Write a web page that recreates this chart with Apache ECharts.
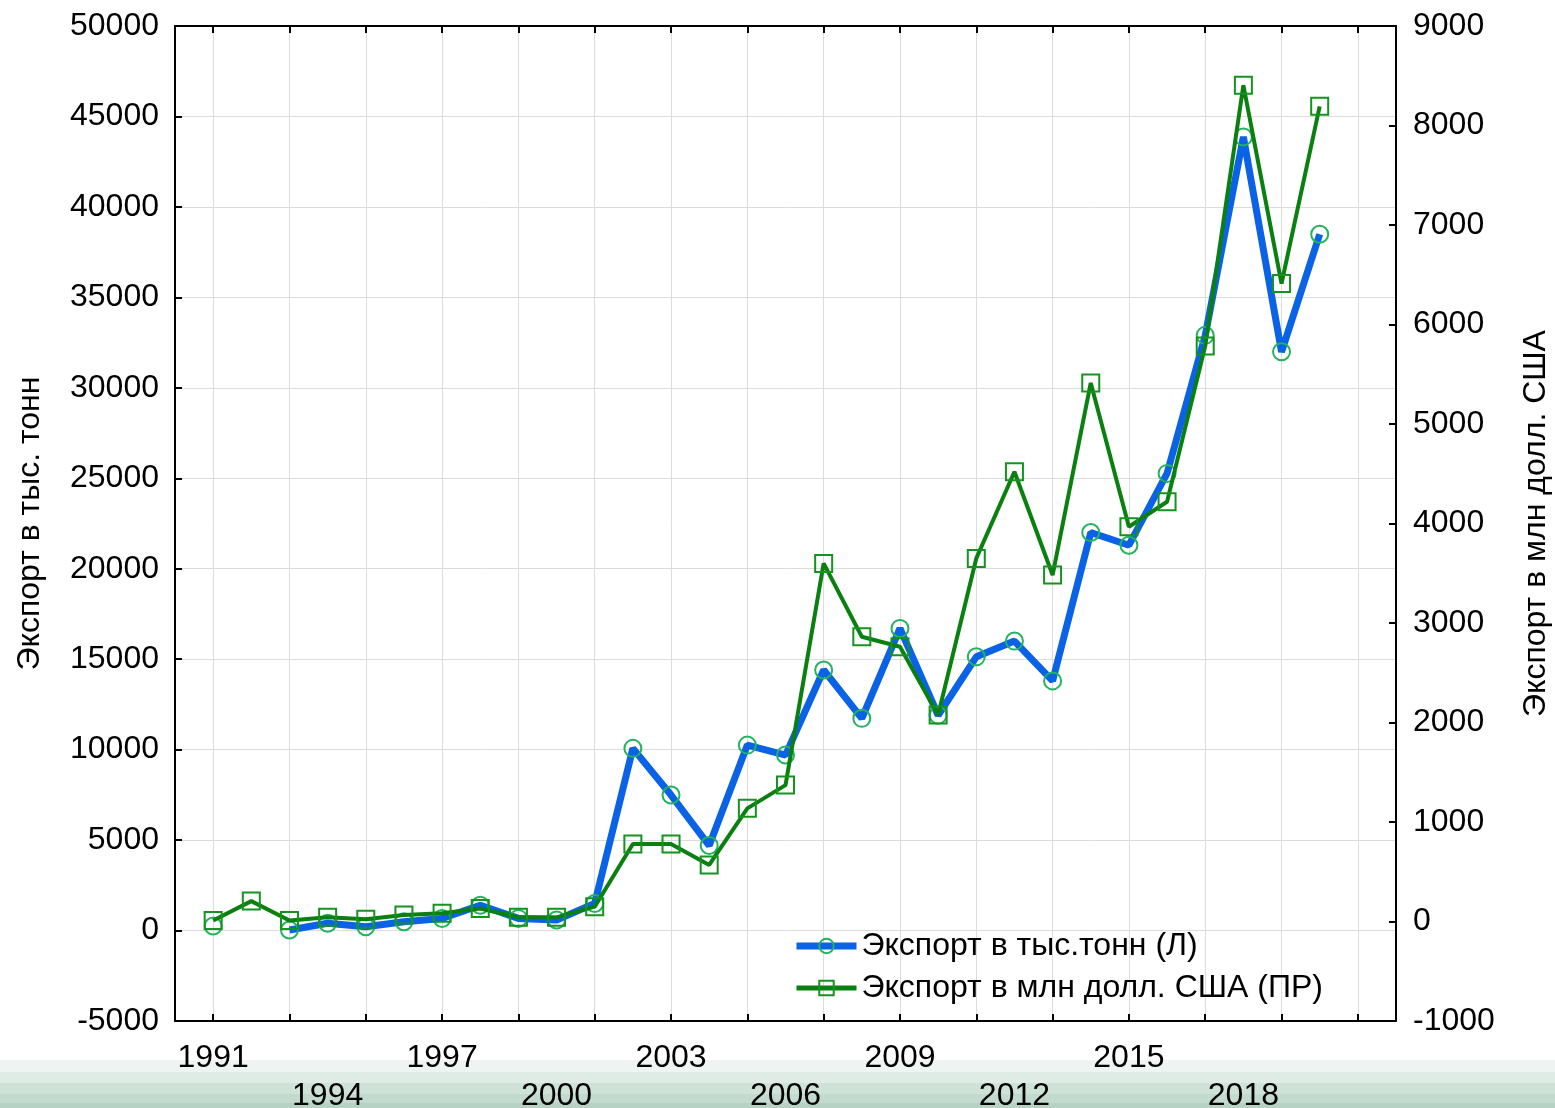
<!DOCTYPE html>
<html>
<head>
<meta charset="utf-8">
<script src="https://cdn.jsdelivr.net/npm/echarts@6/dist/echarts.min.js"></script>
<style>
html,body{margin:0;padding:0;background:#fff;}
#chart{width:1555px;height:1108px;}
</style>
</head>
<body>
<div id="chart"></div>
<script>
// ---- data ----
const years = [1991,1992,1993,1994,1995,1996,1997,1998,1999,2000,2001,2002,2003,2004,2005,2006,2007,2008,2009,2010,2011,2012,2013,2014,2015,2016,2017,2018,2019,2020];
const exportTonnes = [250,null,30,400,210,490,670,1400,670,580,1500,10070,7490,4700,10250,9700,14400,11730,16700,11900,15130,16000,13800,22000,21300,25270,32900,43870,31990,38490];
const exportUsd = [10,205,10,42,22,65,82,130,42,42,149,779,779,568,1137,1371,3599,2862,2761,2075,3649,4520,3482,5413,3967,4219,5784,8404,6412,8193];
const tickYears = [1991,1993,1995,1997,1999,2001,2003,2005,2007,2009,2011,2013,2015,2017,2019,2021];
const labelRow1 = [1991,1997,2003,2009,2015];
const labelRow2 = [1994,2000,2006,2012,2018];
const seriesNames = ['Экспорт в тыс.тонн (Л)','Экспорт в млн долл. США (ПР)'];
const leftAxisName = 'Экспорт в тыс. тонн';
const rightAxisName = 'Экспорт в млн долл. США';

const FONT = 'Liberation Sans, Arial, sans-serif';
const chart = echarts.init(document.getElementById('chart'));

const bandColors = ['#eef4f1','#dfebe5','#cfe2d8','#c3dace','#b6d2c4'];
const bandTops = [1060,1072,1083,1094,1103];
const graphics = bandColors.map((c,i)=>({
  type:'rect', z:-10, silent:true,
  shape:{x:0,y:bandTops[i],width:1555,height:(i<bandTops.length-1?bandTops[i+1]:1108)-bandTops[i]},
  style:{fill:c}
}));

const plain = v => String(v);

chart.setOption({
  backgroundColor:'#ffffff',
  animation:false,
  textStyle:{fontFamily:FONT},
  graphic: graphics,
  grid:{left:175,right:159,top:26,bottom:87,containLabel:false,outerBoundsMode:'none'},
  legend:{
    orient:'vertical', left:788, top:925, itemWidth:60, itemHeight:18, itemGap:10,
    textStyle:{fontSize:32, color:'#000', fontFamily:FONT, lineHeight:32},
    data: [
      {name: seriesNames[0], lineStyle:{width:7}},
      {name: seriesNames[1], lineStyle:{width:5}}
    ]
  },
  xAxis:[
    {
      type:'value', min:1990, max:2022, position:'bottom',
      axisLine:{show:true, onZero:false, lineStyle:{color:'#000',width:2}},
      axisTick:{show:true, inside:true, length:7, customValues: tickYears, lineStyle:{color:'#000',width:2}},
      axisLabel:{show:true, customValues: labelRow1, fontSize:32, color:'#000', margin:21, fontFamily:FONT, formatter: plain},
      splitLine:{show:true, lineStyle:{color:'#dcdcdc',width:1}}
    },
    {
      type:'value', min:1990, max:2022, position:'bottom', offset:0,
      axisLine:{show:false},
      axisTick:{show:false},
      axisLabel:{show:true, customValues: labelRow2, fontSize:32, color:'#000', margin:59, fontFamily:FONT, formatter: plain},
      splitLine:{show:false}
    },
    {
      type:'value', min:1990, max:2022, position:'top',
      axisLine:{show:true, onZero:false, lineStyle:{color:'#000',width:2}},
      axisTick:{show:true, inside:true, length:7, customValues: tickYears, lineStyle:{color:'#000',width:2}},
      axisLabel:{show:false},
      splitLine:{show:false}
    }
  ],
  yAxis:[
    {
      type:'value', min:-5000, max:50000, interval:5000, position:'left',
      name:leftAxisName, nameLocation:'middle', nameRotate:90, nameGap:129,
      nameTextStyle:{fontSize:32, color:'#000', fontFamily:FONT},
      axisLine:{show:true, onZero:false, lineStyle:{color:'#000',width:2}},
      axisTick:{show:true, inside:true, length:7, lineStyle:{color:'#000',width:2}},
      axisLabel:{fontSize:32, color:'#000', margin:16, fontFamily:FONT, formatter: plain},
      splitLine:{show:true, lineStyle:{color:'#dcdcdc',width:1}}
    },
    {
      type:'value', min:-1000, max:9000, interval:1000, position:'right',
      name:rightAxisName, nameLocation:'middle', nameRotate:90, nameGap:124,
      nameTextStyle:{fontSize:32, color:'#000', fontFamily:FONT},
      axisLine:{show:true, onZero:false, lineStyle:{color:'#000',width:2}},
      axisTick:{show:true, inside:true, length:7, lineStyle:{color:'#000',width:2}},
      axisLabel:{fontSize:32, color:'#000', margin:17, fontFamily:FONT, formatter: plain},
      splitLine:{show:false}
    }
  ],
  series:[
    {
      name:seriesNames[0], type:'line', xAxisIndex:0, yAxisIndex:0,
      data: years.map((y,i)=>[y, exportTonnes[i]]),
      connectNulls:false,
      symbol:'circle', symbolSize:17, showAllSymbol:true,
      lineStyle:{color:'#0a62e6', width:7},
      itemStyle:{color:'rgba(0,0,0,0)', borderColor:'#22b35e', borderWidth:2},
      z:2
    },
    {
      name:seriesNames[1], type:'line', xAxisIndex:0, yAxisIndex:1,
      data: years.map((y,i)=>[y, exportUsd[i]]),
      symbol:'rect', symbolSize:17, showAllSymbol:true,
      lineStyle:{color:'#0a8010', width:4},
      itemStyle:{color:'rgba(0,0,0,0)', borderColor:'#15921f', borderWidth:2},
      z:3
    }
  ]
});
</script>
</body>
</html>
